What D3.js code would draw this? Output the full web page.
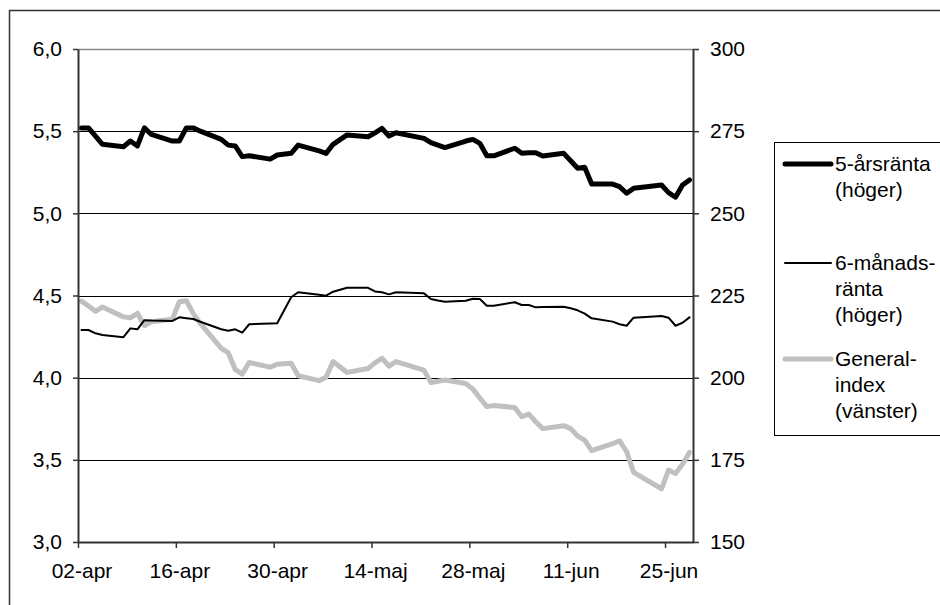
<!DOCTYPE html>
<html>
<head>
<meta charset="utf-8">
<script src="https://cdn.jsdelivr.net/npm/d3@7"></script>
<style>
  body { margin: 0; background: #fff; }
  svg { display: block; font-family: "Liberation Sans", Arial, sans-serif; }
</style>
</head>
<body>
<svg id="svg" width="940" height="605"></svg>
<script>
// handelsdagar april-juni 2002
const dates = [
  "2002-04-02","2002-04-03","2002-04-04","2002-04-05",
  "2002-04-08","2002-04-09","2002-04-10","2002-04-11","2002-04-12",
  "2002-04-15","2002-04-16","2002-04-17","2002-04-18","2002-04-19",
  "2002-04-22","2002-04-23","2002-04-24","2002-04-25","2002-04-26",
  "2002-04-29","2002-04-30","2002-05-02","2002-05-03",
  "2002-05-06","2002-05-07","2002-05-08","2002-05-10",
  "2002-05-13","2002-05-14","2002-05-15","2002-05-16","2002-05-17",
  "2002-05-21","2002-05-22","2002-05-23","2002-05-24",
  "2002-05-27","2002-05-28","2002-05-29","2002-05-30","2002-05-31",
  "2002-06-03","2002-06-04","2002-06-05","2002-06-06","2002-06-07",
  "2002-06-10","2002-06-11","2002-06-12","2002-06-13","2002-06-14",
  "2002-06-17","2002-06-18","2002-06-19","2002-06-20",
  "2002-06-24","2002-06-25","2002-06-26","2002-06-27","2002-06-28"
];

const fiveYear = [
  5.52, 5.52, 5.47, 5.42,
  5.405, 5.44, 5.41, 5.52, 5.48,
  5.44, 5.44, 5.52, 5.52, 5.50,
  5.45, 5.415, 5.41, 5.345, 5.35,
  5.33, 5.355, 5.365, 5.415,
  5.38, 5.365, 5.42, 5.477,
  5.466, 5.49, 5.517, 5.47, 5.49,
  5.456, 5.43, 5.415, 5.40,
  5.44, 5.45, 5.426, 5.35, 5.35,
  5.396, 5.365, 5.368, 5.369, 5.349,
  5.365, 5.32, 5.274, 5.28, 5.178,
  5.178, 5.162, 5.122, 5.152,
  5.172, 5.126, 5.098, 5.172, 5.203
];

const sixMonth = [
  4.29, 4.29, 4.27, 4.26,
  4.246, 4.30, 4.294, 4.35, 4.348,
  4.345, 4.367, 4.362, 4.357, 4.34,
  4.295, 4.286, 4.294, 4.274, 4.325,
  4.33, 4.331, 4.489, 4.52,
  4.505, 4.499, 4.523, 4.547,
  4.547, 4.525, 4.52, 4.507, 4.52,
  4.513, 4.479, 4.47, 4.462,
  4.468, 4.48, 4.479, 4.438, 4.438,
  4.459, 4.442, 4.442, 4.428, 4.43,
  4.432, 4.422, 4.41, 4.39, 4.361,
  4.341, 4.325, 4.316, 4.365,
  4.375, 4.365, 4.316, 4.334, 4.367
];

const generalIndex = [
  223.3, 221.8, 220.2, 221.5,
  218.5, 218.2, 219.6, 215.8, 217.0,
  217.8, 223.1, 223.4, 219.5, 216.5,
  208.9, 207.6, 202.5, 201.1, 204.6,
  203.2, 204.1, 204.4, 200.6,
  199.1, 200.1, 204.9, 201.6,
  202.8, 204.5, 205.9, 203.5, 204.9,
  202.3, 198.5, 198.9, 199.3,
  198.2, 196.5, 193.8, 191.2, 191.5,
  190.9, 188.1, 188.9, 186.6, 184.5,
  185.4, 184.5, 182.2, 181.0, 177.8,
  179.9, 180.8, 177.5, 171.2,
  166.2, 171.9, 170.8, 173.7, 177.3
];

const tickDates = ["2002-04-02","2002-04-16","2002-04-30","2002-05-14","2002-05-28","2002-06-11","2002-06-25"];
const tickLabels = ["02-apr","16-apr","30-apr","14-maj","28-maj","11-jun","25-jun"];
const leftTicks = [3.0, 3.5, 4.0, 4.5, 5.0, 5.5, 6.0];
const rightTicks = [150, 175, 200, 225, 250, 275, 300];

const legendItems = [
  { lines: ["5-årsränta", "(höger)"], color: "#000", width: 5 },
  { lines: ["6-månads-", "ränta", "(höger)"], color: "#000", width: 2 },
  { lines: ["General-", "index", "(vänster)"], color: "#c0c0c0", width: 5 }
];

const svg = d3.select("#svg");
const parse = d3.timeParse("%Y-%m-%d");
const fontSize = 21;

const plotLeft = 78, plotRight = 693, plotTop = 49, plotBottom = 542;

const x = d3.scaleTime()
  .domain([parse("2002-04-02"), parse("2002-06-29")])
  .range([plotLeft, plotRight]);
const yL = d3.scaleLinear().domain([3, 6]).range([plotBottom, plotTop]);
const yR = d3.scaleLinear().domain([150, 300]).range([plotBottom, plotTop]);

// varje punkt ligger mitt på sin dag
function xMid(d) {
  return x(d3.timeHour.offset(d, 12));
}

// yttre ram
svg.append("rect")
   .attr("x", 9.5).attr("y", 10.5)
   .attr("width", 1000).attr("height", 1000)
   .attr("fill", "none").attr("stroke", "#333").attr("stroke-width", 1.5);

// stödlinjer
svg.append("g")
   .selectAll("line")
   .data(leftTicks.filter(v => v > 3))
   .join("line")
   .attr("x1", plotLeft).attr("x2", plotRight)
   .attr("y1", d => Math.round(yL(d)) + 0.5)
   .attr("y2", d => Math.round(yL(d)) + 0.5)
   .attr("stroke", d => d === 6 ? "#888" : "#000")
   .attr("stroke-width", d => d === 6 ? 1.5 : 1);

// serier
const days = dates.map(parse);

function drawSeries(values, scale, color, width) {
  const line = d3.line()
    .x((d, i) => xMid(days[i]))
    .y(d => scale(d));
  svg.append("path")
     .datum(values)
     .attr("d", line)
     .attr("fill", "none")
     .attr("stroke", color)
     .attr("stroke-width", width)
     .attr("stroke-linejoin", "round")
     .attr("stroke-linecap", "round");
}

drawSeries(generalIndex, yR, "#c0c0c0", 5);
drawSeries(sixMonth, yL, "#000", 2);
drawSeries(fiveYear, yL, "#000", 5);

// axlar
function styleAxis(g) {
  g.selectAll("path").attr("stroke", "#333").attr("stroke-width", 2);
  g.selectAll("line").attr("stroke", "#333").attr("stroke-width", 1.5);
  g.selectAll("text").attr("font-size", fontSize).attr("fill", "#000")
   .attr("font-family", "'Liberation Sans', Arial, sans-serif");
}

const xAxis = svg.append("g")
  .attr("transform", `translate(0,${plotBottom})`)
  .call(d3.axisBottom(x)
    .tickValues(tickDates.map(parse))
    .tickFormat((d, i) => tickLabels[i])
    .tickSize(6).tickSizeOuter(0).tickPadding(15))
  .call(styleAxis);
xAxis.selectAll("text").attr("x", 3.5);

svg.append("g")
   .attr("transform", `translate(${plotLeft},0)`)
   .call(d3.axisLeft(yL)
     .tickValues(leftTicks)
     .tickFormat(d => d.toFixed(1).replace(".", ","))
     .tickSize(5).tickSizeOuter(0).tickPadding(11))
   .call(styleAxis);

svg.append("g")
   .attr("transform", `translate(${plotRight},0)`)
   .call(d3.axisRight(yR)
     .tickValues(rightTicks)
     .tickSize(6).tickSizeOuter(0).tickPadding(11))
   .call(styleAxis);

// förklaring
const legend = svg.append("g");
legend.append("rect")
      .attr("x", 774.5).attr("y", 142.5)
      .attr("width", 300).attr("height", 293)
      .attr("fill", "#fff").attr("stroke", "#000").attr("stroke-width", 1);

const legendY = [164, 263, 359];
legendItems.forEach((item, i) => {
  const y0 = legendY[i];
  legend.append("line")
        .attr("x1", 785).attr("x2", 831)
        .attr("y1", y0).attr("y2", y0)
        .attr("stroke", item.color)
        .attr("stroke-width", item.width)
        .attr("stroke-linecap", "round");
  const t = legend.append("text")
        .attr("x", 835).attr("y", y0 + 7)
        .attr("font-size", fontSize).attr("fill", "#000");
  item.lines.forEach((s, j) => {
    t.append("tspan").attr("x", 835).attr("dy", j === 0 ? 0 : 26).text(s);
  });
});
</script>
</body>
</html>
